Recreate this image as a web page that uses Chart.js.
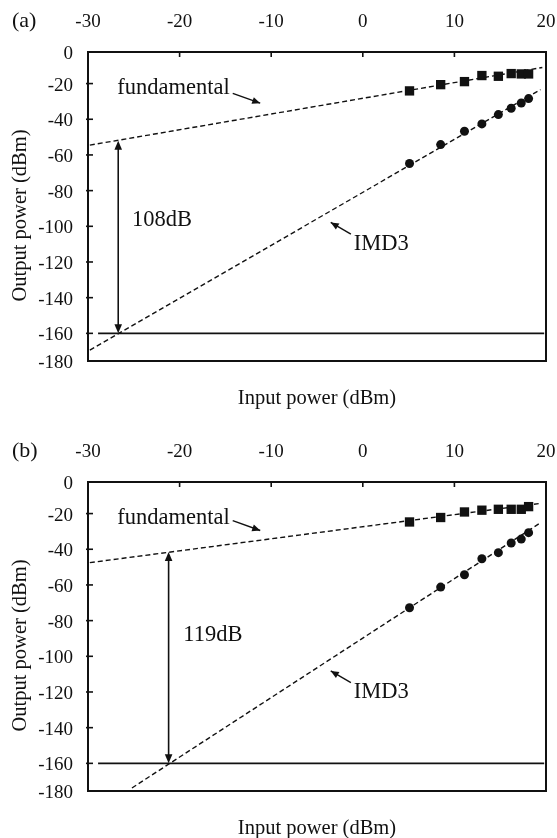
<!DOCTYPE html>
<html><head><meta charset="utf-8">
<script src="https://cdn.jsdelivr.net/npm/chart.js@4.4.1/dist/chart.umd.min.js"></script>
<style>
html,body{margin:0;padding:0;background:#fff;overflow:hidden;width:557px;height:838px;}
canvas{position:absolute;left:0;}
#ca{top:0}
#cb{top:430px}
</style></head><body>
<canvas id="ca" width="557" height="418"></canvas>
<canvas id="cb" width="557" height="418"></canvas>
<script>
// ---------- data ----------
const inputPower = [5.1, 8.5, 11.1, 13.0, 14.8, 16.2, 17.3, 18.1];
const fundA = [-24.1, -20.6, -18.9, -15.5, -15.9, -14.4, -14.6, -14.6];
const imd3A = [-64.8, -54.2, -46.7, -42.6, -37.4, -33.8, -30.9, -28.4];
const fundB = [-24.7, -22.2, -19.1, -18.1, -17.6, -17.6, -17.6, -16.1];
const imd3B = [-72.8, -61.2, -54.3, -45.3, -41.9, -36.5, -34.3, -30.7];
// fitted (extrapolated) lines: [x, y] end points
const fundFitA = [[-29.8, -54.5], [19.6, -11.0]];
const imdFitA  = [[-29.8, -169.4], [19.4, -23.4]];
const fundFitB = [[-29.8, -47.5], [19.2, -14.4]];
const imdFitB  = [[-25.2, -173.8], [19.35, -25.3]];
const noiseFloor = [[-28.9, -160], [19.8, -160]];
// dynamic range arrows [x, top, bottom]
const rangeA = [-26.7, -52.0, -160];
const rangeB = [-21.2, -41.5, -160];
const rangeLabels = ['108dB', '119dB'];
const panelLabels = ['(a)', '(b)'];
// tick values / labels
const xTickValues = [-30, -20, -10, 0, 10, 20];
const xTickLabels = ['-30', '-20', '-10', '0', '10', '20'];
const yTickValues = [-175.5, -160, -140, -120, -100, -80, -60, -40, -20, -2.3];
const yTickLabels = ['-180', '-160', '-140', '-120', '-100', '-80', '-60', '-40', '-20', '0'];
const xTitle = 'Input power (dBm)';
const yTitle = 'Output power (dBm)';
// annotation anchors (data coordinates)
const annA = { fund: [-26.8, -22.3], fundArrow: [[-14.2, -25.5], [-11.2, -31.0]], range: [-25.2, -96.5], imd: [-1.0, -110.0], imdArrow: [[-1.3, -104.4], [-3.5, -97.8]] };
const annB = { fund: [-26.8, -22.3], fundArrow: [[-14.2, -24.0], [-11.2, -29.5]], range: [-19.6, -88.3], imd: [-1.0, -120.2], imdArrow: [[-1.3, -114.7], [-3.5, -108.2]] };

const FONT = '"Liberation Serif", "Times New Roman", serif';
const INK = '#111';

function arrowHead(ctx, x1, y1, x2, y2, len, half) {
  const ang = Math.atan2(y2 - y1, x2 - x1);
  ctx.beginPath();
  ctx.moveTo(x2, y2);
  ctx.lineTo(x2 - len * Math.cos(ang) + half * Math.sin(ang), y2 - len * Math.sin(ang) - half * Math.cos(ang));
  ctx.lineTo(x2 - len * Math.cos(ang) - half * Math.sin(ang), y2 - len * Math.sin(ang) + half * Math.cos(ang));
  ctx.closePath();
  ctx.fill();
}

const framePlugin = {
  id: 'frame',
  afterDraw(chart, args, opts) {
    const { ctx, chartArea: a, scales } = chart;
    const xs = scales.x, ys = scales.y;
    const X = v => xs.getPixelForValue(v), Y = v => ys.getPixelForValue(v);
    ctx.save();
    ctx.strokeStyle = INK; ctx.fillStyle = INK;
    // frame
    ctx.lineWidth = 2;
    ctx.strokeRect(a.left, a.top, a.right - a.left, a.bottom - a.top);
    // inner tick marks
    ctx.lineWidth = 1.6;
    xs.ticks.forEach(t => {
      const px = X(t.value);
      if (px > a.left + 2 && px < a.right - 2) { ctx.beginPath(); ctx.moveTo(px, a.top); ctx.lineTo(px, a.top + 5); ctx.stroke(); }
    });
    ys.ticks.forEach(t => {
      const py = Y(t.value);
      if (py > a.top + 2 && py < a.bottom - 2) { ctx.beginPath(); ctx.moveTo(a.left - 2, py); ctx.lineTo(a.left + 5, py); ctx.stroke(); }
    });
    // panel letter
    ctx.font = '22px ' + FONT;
    ctx.textAlign = 'left'; ctx.textBaseline = 'middle';
    ctx.fillText(opts.panel, 12, 21);
    // y axis title (rotated)
    ctx.save();
    ctx.translate(21, (a.top + a.bottom) / 2 + 9);
    ctx.rotate(-Math.PI / 2);
    ctx.textAlign = 'center';
    ctx.font = '20.5px ' + FONT;
    ctx.fillText(yTitle, 0, 0);
    ctx.restore();
    // dynamic range double arrow
    const r = opts.range;
    const rx = X(r[0]), rt = Y(r[1]), rb = Y(r[2]);
    ctx.lineWidth = 1.6;
    ctx.beginPath(); ctx.moveTo(rx, rt + 6); ctx.lineTo(rx, rb - 6); ctx.stroke();
    arrowHead(ctx, rx, rb, rx, rt, 9, 3.8);
    arrowHead(ctx, rx, rt, rx, rb, 9, 3.8);
    // annotation texts
    const an = opts.ann;
    ctx.textAlign = 'left';
    ctx.font = '22.5px ' + FONT;
    ctx.fillText('fundamental', X(an.fund[0]), Y(an.fund[1]));
    ctx.fillText(opts.rangeLabel, X(an.range[0]), Y(an.range[1]));
    ctx.fillText('IMD3', X(an.imd[0]), Y(an.imd[1]));
    // small arrows
    [an.fundArrow, an.imdArrow].forEach(ar => {
      const x1 = X(ar[0][0]), y1 = Y(ar[0][1]), x2 = X(ar[1][0]), y2 = Y(ar[1][1]);
      ctx.lineWidth = 1.4;
      ctx.beginPath(); ctx.moveTo(x1, y1); ctx.lineTo(x2, y2); ctx.stroke();
      arrowHead(ctx, x1, y1, x2, y2, 8, 3.5);
    });
    ctx.restore();
  }
};

function pts(xs, ys) { return xs.map((x, i) => ({ x: x, y: ys[i] })); }
function seg(p) { return p.map(q => ({ x: q[0], y: q[1] })); }

function makeChart(id, fund, imd, fundFit, imdFit, range, rangeLabel, panel, ann) {
  return new Chart(document.getElementById(id), {
    type: 'line',
    data: {
      datasets: [
        { label: 'fundamental', data: pts(inputPower, fund), showLine: false, pointStyle: 'rect', pointRadius: 6.6, pointBackgroundColor: INK, pointBorderColor: INK, pointBorderWidth: 0, xAxisID: 'x' },
        { label: 'IMD3', data: pts(inputPower, imd), showLine: false, pointStyle: 'circle', pointRadius: 4.5, pointBackgroundColor: INK, pointBorderColor: INK, pointBorderWidth: 0, xAxisID: 'x' },
        { label: 'fund fit', data: seg(fundFit), borderColor: INK, borderWidth: 1.4, borderDash: [5, 3], pointRadius: 0, fill: false, xAxisID: 'x' },
        { label: 'IMD3 fit', data: seg(imdFit), borderColor: INK, borderWidth: 1.4, borderDash: [5, 3], pointRadius: 0, fill: false, xAxisID: 'x' },
        { label: 'noise floor', data: seg(noiseFloor), borderColor: INK, borderWidth: 1.8, pointRadius: 0, fill: false, xAxisID: 'x' }
      ]
    },
    options: {
      responsive: false, animation: false, devicePixelRatio: 1,
      layout: { padding: { left: 0, right: 11, top: 0, bottom: 0 } },
      plugins: { legend: { display: false }, tooltip: { enabled: false },
        frame: { range: range, rangeLabel: rangeLabel, panel: panel, ann: ann } },
      scales: {
        x: {
          type: 'linear', position: 'top', min: -30, max: 20,
          afterBuildTicks: s => { s.ticks = xTickValues.map(v => ({ value: v })); },
          ticks: { callback: (v, i) => xTickLabels[i], font: { family: FONT, size: 19 }, color: INK, padding: 0, maxRotation: 0, autoSkip: false },
          grid: { display: true, drawOnChartArea: false, drawTicks: true, tickLength: 19, tickColor: 'rgba(0,0,0,0)', color: 'rgba(0,0,0,0)' },
          border: { display: false },
          afterFit: s => { s.height = 52; }
        },
        xb: {
          type: 'linear', position: 'bottom', min: -30, max: 20,
          ticks: { display: false },
          grid: { display: false, drawTicks: false, tickLength: 0 },
          border: { display: false },
          title: { display: true, text: xTitle, font: { family: FONT, size: 20.5 }, color: INK, padding: { top: 0, bottom: 6.7 } },
          afterFit: s => { s.height = 57; }
        },
        y: {
          type: 'linear', position: 'left', min: -175.5, max: -2.3,
          afterBuildTicks: s => { s.ticks = yTickValues.map(v => ({ value: v })); },
          ticks: { callback: (v, i) => yTickLabels[i], font: { family: FONT, size: 19 }, color: INK, padding: 0, labelOffset: 2, autoSkip: false },
          grid: { display: true, drawOnChartArea: false, drawTicks: true, tickLength: 15, tickColor: 'rgba(0,0,0,0)', color: 'rgba(0,0,0,0)' },
          border: { display: false },
          afterFit: s => { s.width = 88; }
        }
      }
    },
    plugins: [framePlugin]
  });
}

makeChart('ca', fundA, imd3A, fundFitA, imdFitA, rangeA, rangeLabels[0], panelLabels[0], annA);
makeChart('cb', fundB, imd3B, fundFitB, imdFitB, rangeB, rangeLabels[1], panelLabels[1], annB);
</script>
</body></html>
